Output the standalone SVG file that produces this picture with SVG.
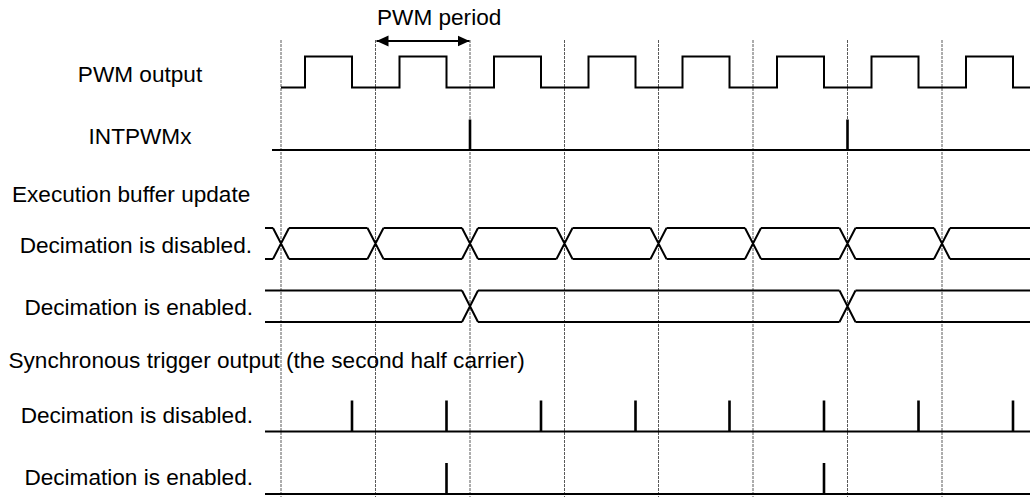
<svg xmlns="http://www.w3.org/2000/svg" width="1030" height="497" viewBox="0 0 1030 497">
<style>
  text { font-family: "Liberation Sans", Arial, sans-serif; font-size: 22.6px; fill: #000; }
  .grid { stroke: #5a5a5a; stroke-width: 1; stroke-dasharray: 3 1; fill: none; }
  .wave { stroke: #000; stroke-width: 2; fill: none; stroke-linejoin: miter; }
  .pulse { stroke: #000; stroke-width: 2.6; fill: none; }
  .arrow { stroke: #000; stroke-width: 2; fill: none; marker-start: url(#ah); marker-end: url(#ah); }
</style>
<defs>
  <marker id="ah" markerUnits="userSpaceOnUse" markerWidth="13" markerHeight="12" refX="12" refY="6" orient="auto-start-reverse">
    <path d="M0,0.5 L12,6 L0,11.5 z" fill="#000"/>
  </marker>
</defs>
<rect width="1030" height="497" fill="#fff"/>

<g id="grid">
  <line class="grid" x1="281" y1="40" x2="281" y2="497"/>
  <line class="grid" x1="375.5" y1="40" x2="375.5" y2="497"/>
  <line class="grid" x1="470" y1="40" x2="470" y2="497"/>
  <line class="grid" x1="564.5" y1="40" x2="564.5" y2="497"/>
  <line class="grid" x1="658.5" y1="40" x2="658.5" y2="497"/>
  <line class="grid" x1="753" y1="40" x2="753" y2="497"/>
  <line class="grid" x1="847.5" y1="40" x2="847.5" y2="497"/>
  <line class="grid" x1="942" y1="40" x2="942" y2="497"/>
</g>

<g id="labels">
  <text x="377" y="25">PWM period</text>
  <text x="140" y="82" text-anchor="middle">PWM output</text>
  <text x="140" y="144" text-anchor="middle">INTPWMx</text>
  <text x="12" y="202">Execution buffer update</text>
  <text x="252" y="253" text-anchor="end">Decimation is disabled.</text>
  <text x="253" y="315" text-anchor="end">Decimation is enabled.</text>
  <text x="8.5" y="368">Synchronous trigger output (the second half carrier)</text>
  <text x="253" y="423" text-anchor="end">Decimation is disabled.</text>
  <text x="253" y="485" text-anchor="end">Decimation is enabled.</text>
</g>

<g id="pwm-output">
  <path class="wave" d="M281,87.5 H305 V56.5 H352 V87.5 H399.5 V56.5 H446.5 V87.5 H494 V56.5 H541 V87.5 H588.5 V56.5 H635.5 V87.5 H682.5 V56.5 H729.5 V87.5 H777 V56.5 H824 V87.5 H871.5 V56.5 H918.5 V87.5 H966 V56.5 H1013 V87.5 H1030"/>
</g>

<g id="intpwmx">
  <line class="wave" x1="272" y1="150" x2="1030" y2="150"/>
  <line class="pulse" x1="470" y1="119.5" x2="470" y2="150"/>
  <line class="pulse" x1="847.5" y1="119.5" x2="847.5" y2="150"/>
</g>

<g id="buffer-disabled">
  <path class="wave" d="M265,228 H273 M289,228 H367.5 M383.5,228 H462 M478,228 H556.5 M572.5,228 H650.5 M666.5,228 H745 M761,228 H839.5 M855.5,228 H934 M950,228 H1030"/>
  <path class="wave" d="M265,259 H273 M289,259 H367.5 M383.5,259 H462 M478,259 H556.5 M572.5,259 H650.5 M666.5,259 H745 M761,259 H839.5 M855.5,259 H934 M950,259 H1030"/>
  <path class="wave" d="M273,228 L289,259 M273,259 L289,228 M367.5,228 L383.5,259 M367.5,259 L383.5,228 M462,228 L478,259 M462,259 L478,228 M556.5,228 L572.5,259 M556.5,259 L572.5,228 M650.5,228 L666.5,259 M650.5,259 L666.5,228 M745,228 L761,259 M745,259 L761,228 M839.5,228 L855.5,259 M839.5,259 L855.5,228 M934,228 L950,259 M934,259 L950,228"/>
</g>

<g id="buffer-enabled">
  <path class="wave" d="M265,290.5 H462 M478,290.5 H839.5 M855.5,290.5 H1030"/>
  <path class="wave" d="M265,322 H462 M478,322 H839.5 M855.5,322 H1030"/>
  <path class="wave" d="M462,290.5 L478,322 M462,322 L478,290.5 M839.5,290.5 L855.5,322 M839.5,322 L855.5,290.5"/>
</g>

<g id="trigger-disabled">
  <line class="wave" x1="265" y1="431.5" x2="1030" y2="431.5"/>
  <path class="pulse" d="M352,400.5 V431.5 M446.5,400.5 V431.5 M541,400.5 V431.5 M635.5,400.5 V431.5 M729.5,400.5 V431.5 M824,400.5 V431.5 M918.5,400.5 V431.5 M1013,400.5 V431.5"/>
</g>

<g id="trigger-enabled">
  <line class="wave" x1="265" y1="494" x2="1030" y2="494"/>
  <path class="pulse" d="M446.5,463 V494 M824,463 V494"/>
</g>

<g id="connectors">
  <line class="arrow" x1="376.5" y1="41" x2="469.5" y2="41"/>
</g>
</svg>
